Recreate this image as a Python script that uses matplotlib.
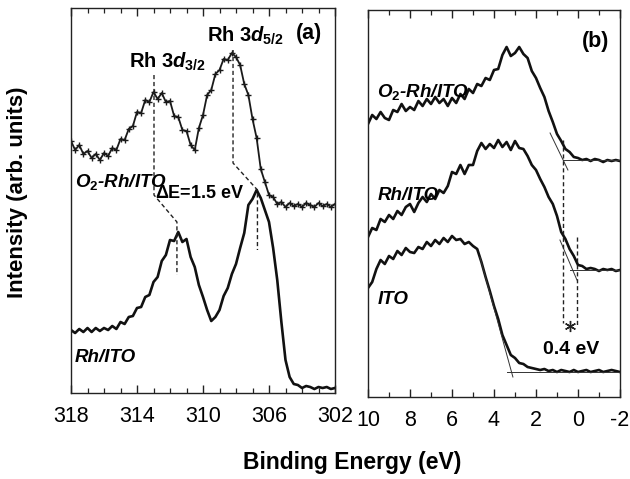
import matplotlib
matplotlib.use("Agg")
import matplotlib.pyplot as plt
import numpy as np

plt.rcParams['font.family'] = ['Liberation Sans', 'DejaVu Sans']
plt.rcParams['axes.unicode_minus'] = False
plt.rcParams['mathtext.fontset'] = 'custom'
plt.rcParams['mathtext.rm'] = 'Liberation Sans:bold'
plt.rcParams['mathtext.it'] = 'Liberation Sans:bold:italic'
plt.rcParams['mathtext.bf'] = 'Liberation Sans:bold'

# ---------------- Panel (a): Rh 3d core level ----------------
energy_a = [318.00 - 0.25 * i for i in range(65)]
o2_rh_ito_a = [259, 250, 255, 246, 249, 242, 246, 240, 247, 244, 252, 250, 261,
               260, 271, 274, 288, 287, 300, 298, 308, 301, 307, 298, 299, 284,
               283, 270, 269, 255, 250, 272, 285, 305, 310, 326, 330, 341, 340,
               347, 343, 335, 316, 305, 281, 262, 231, 218, 205, 203, 196, 198,
               193, 197, 194, 196, 193, 197, 195, 193, 197, 194, 196, 193, 196]
rh_ito_a = [70, 67, 71, 68, 72, 68, 72, 69, 72, 70, 74, 71, 78, 76, 83, 84, 92,
            93, 103, 105, 118, 123, 139, 145, 160, 159, 168, 158, 161, 143, 133,
            115, 103, 90, 79, 83, 90, 104, 112, 126, 136, 152, 167, 195, 201,
            210, 202, 190, 178, 152, 120, 78, 40, 23, 16, 15, 12, 14, 13, 11, 13,
            12, 13, 11, 12]

# peak-shift guide lines (a)
guide_32_e = [312.97, 312.97, 311.58, 311.58]
guide_32_i = [325, 205, 178, 125]
guide_52_e = [308.18, 308.18, 306.70, 306.70]
guide_52_i = [350, 237, 210, 150]

# ---------------- Panel (b): valence band ----------------
energy_b = [round(10.0 - 0.2 * i, 2) for i in range(61)]
o2_rh_ito_b = [276, 285, 281, 288, 282, 280, 290, 288, 296, 289, 293, 290, 299,
               294, 301, 296, 303, 297, 301, 294, 302, 297, 306, 301, 311, 307,
               316, 314, 322, 320, 330, 331, 345, 353, 344, 347, 353, 346, 342,
               329, 322, 312, 303, 289, 278, 266, 259, 251, 248, 243, 242, 240,
               241, 239, 241, 240, 238, 240, 239, 240, 239]
rh_ito_b = [163, 172, 170, 181, 178, 185, 181, 189, 185, 193, 196, 188, 197,
            203, 198, 206, 201, 210, 207, 214, 228, 226, 235, 226, 235, 235,
            249, 257, 251, 256, 252, 260, 253, 258, 250, 259, 252, 251, 244,
            235, 230, 221, 213, 203, 196, 184, 168, 161, 151, 144, 135, 134,
            131, 132, 131, 129, 131, 130, 131, 129, 130]
ito_b = [112, 118, 131, 140, 136, 144, 141, 149, 145, 152, 148, 147, 153, 151,
         158, 154, 160, 156, 162, 158, 164, 160, 161, 156, 158, 154, 151, 138,
         123, 109, 94, 81, 65, 55, 45, 42, 37, 36, 33, 32, 31, 30, 31, 29, 30,
         28, 30, 29, 28, 30, 28, 29, 30, 28, 29, 30, 28, 29, 30, 29, 28]

# leading-edge extrapolation lines (b)
ito_tan_e, ito_tan_i = [4.67, 3.10], [143, 23]
ito_base_e, ito_base_i = [3.38, -2.0], [28, 28]
rh_tan_e, rh_tan_i = [0.86, 0.05], [160, 120]
rh_base_e, rh_base_i = [0.38, -2.0], [130, 130]
o2_tan_e, o2_tan_i = [1.33, 0.48], [267, 230]
o2_base_e, o2_base_i = [0.71, -2.0], [240, 240]
vbm_o2_e, vbm_o2_i = [0.70, 0.70], [260, 77]
vbm_rh_e, vbm_rh_i = [0.05, 0.05], [163, 73]

fig = plt.figure(figsize=(6.3, 4.79), dpi=100)
W, H = 630.0, 479.0
ax_a = fig.add_axes([71 / W, 1 - 393 / H, (335 - 71) / W, (393 - 8) / H])
ax_b = fig.add_axes([368 / W, 1 - 397 / H, (620 - 368) / W, (397 - 10) / H])

for ax in (ax_a, ax_b):
    for s in ax.spines.values():
        s.set_linewidth(1.0)
        s.set_color('#222222')
    ax.tick_params(axis='x', which='both', direction='in', top=True,
                   labelsize=15.5, pad=9, color='#222222')
    ax.tick_params(axis='x', which='major', length=6, width=1.0)
    ax.tick_params(axis='x', which='minor', length=3.5, width=0.9)
    ax.tick_params(axis='y', which='both', left=False, right=False,
                   labelleft=False)

# panel (a)
ax_a.plot(energy_a, o2_rh_ito_a, color='#1a1a1a', lw=1.3, marker='+',
          ms=4, mew=1.0)
ax_a.plot(energy_a, rh_ito_a, color='#111111', lw=1.9)
ax_a.plot(guide_32_e, guide_32_i, color='#222222', lw=1.0, ls=(0, (3, 2)))
ax_a.plot(guide_52_e, guide_52_i, color='#222222', lw=1.0, ls=(0, (3, 2)))
ax_a.set_xlim(318, 302)
ax_a.set_ylim(7, 392)
ax_a.set_xticks([318, 314, 310, 306, 302])
ax_a.set_xticks(np.arange(302, 319, 1), minor=True)

ax_a.text(312.18, 338, r'Rh 3$\mathit{d}_{3/2}$', fontsize=14.5,
          fontweight='bold', ha='center', va='center')
ax_a.text(307.45, 364, r'Rh 3$\mathit{d}_{5/2}$', fontsize=14.5,
          fontweight='bold', ha='center', va='center')
ax_a.text(303.55, 367, '(a)', fontsize=15.5, fontweight='bold',
          ha='center', va='center')
ax_a.text(317.75, 218, r'O$_{\mathit{2}}$-Rh/ITO', fontsize=13.5,
          fontweight='bold', style='italic', ha='left', va='center')
ax_a.text(312.9, 207, r'$\Delta$E=1.5 eV', fontsize=13,
          fontweight='bold', ha='left', va='center')
ax_a.text(317.75, 42, 'Rh/ITO', fontsize=13.5, fontweight='bold',
          style='italic', ha='left', va='center')

# panel (b)
ax_b.plot(energy_b, o2_rh_ito_b, color='#111111', lw=1.9)
ax_b.plot(energy_b, rh_ito_b, color='#111111', lw=1.9)
ax_b.plot(energy_b, ito_b, color='#111111', lw=1.9)
for e, i in [(ito_tan_e, ito_tan_i), (ito_base_e, ito_base_i),
             (rh_tan_e, rh_tan_i), (rh_base_e, rh_base_i),
             (o2_tan_e, o2_tan_i), (o2_base_e, o2_base_i)]:
    ax_b.plot(e, i, color='#333333', lw=0.7)
ax_b.plot(vbm_o2_e, vbm_o2_i, color='#222222', lw=1.0, ls=(0, (3, 2)))
ax_b.plot(vbm_rh_e, vbm_rh_i, color='#222222', lw=1.0, ls=(0, (3, 2)))
ax_b.plot([0.375], [74], marker=(6, 2, 0), ms=8, color='#222222', mew=1.0)
ax_b.set_xlim(10, -2)
ax_b.set_ylim(3, 390)
ax_b.set_xticks([10, 8, 6, 4, 2, 0, -2])
ax_b.set_xticks(np.arange(-2, 11, 1), minor=True)

ax_b.text(-0.86, 358, '(b)', fontsize=15.5, fontweight='bold',
          ha='center', va='center')
ax_b.text(9.57, 308, r'O$_{\mathit{2}}$-Rh/ITO', fontsize=13.5,
          fontweight='bold', style='italic', ha='left', va='center')
ax_b.text(9.52, 205, 'Rh/ITO', fontsize=13.5, fontweight='bold',
          style='italic', ha='left', va='center')
ax_b.text(9.55, 100, 'ITO', fontsize=13.5, fontweight='bold',
          style='italic', ha='left', va='center')
ax_b.text(0.33, 50, '0.4 eV', fontsize=14, fontweight='bold',
          ha='center', va='center')

fig.text(352 / W, 1 - 462 / H, 'Binding Energy (eV)', fontsize=16.5,
         fontweight='bold', ha='center', va='center')
fig.text(18 / W, 1 - 192 / H, 'Intensity (arb. units)', fontsize=16,
         fontweight='bold', ha='center', va='center', rotation=90)

fig.savefig('out.png', dpi=100)
